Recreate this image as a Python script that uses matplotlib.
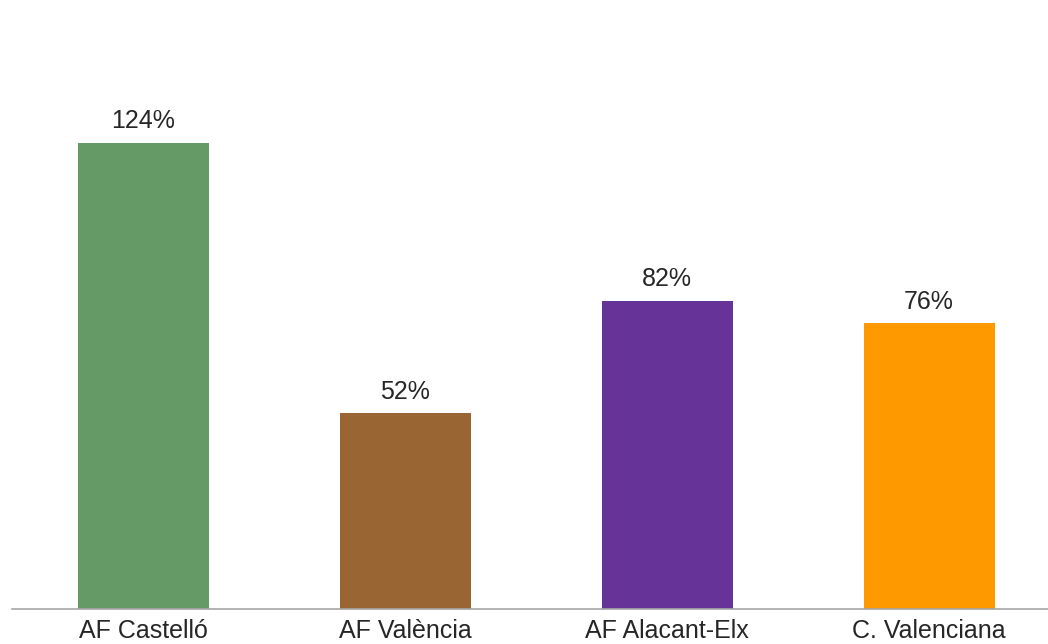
import matplotlib.pyplot as plt

# --- Data ---
categories = ['AF Castelló', 'AF València', 'AF Alacant-Elx', 'C. Valenciana']
values = [124, 52, 82, 76]
colors = ['#659966', '#996633', '#663399', '#FF9900']

plt.rcParams['font.family'] = ['Liberation Sans', 'DejaVu Sans']

fig = plt.figure(figsize=(10.48, 6.44), dpi=100)
# axes placed in pixels: baseline at y=609, left edge at x=12
ax = fig.add_axes([12 / 1048, (644 - 609) / 644, 1036 / 1048, 609 / 644])

x = range(len(categories))
bars = ax.bar(x, values, width=0.5, color=colors)

for b, v in zip(bars, values):
    ax.annotate(f'{v}%', (b.get_x() + b.get_width() / 2, v),
                xytext=(0, 7), textcoords='offset points',
                ha='center', va='bottom', fontsize=18, color='#262626')

ax.set_xlim(-0.5, -0.5 + 1036 / 262)
ax.set_ylim(0, 609 / 3.76)
ax.set_xticks(list(x))
ax.set_xticklabels(categories, fontsize=18, color='#262626')
ax.tick_params(axis='x', length=0, pad=7)
ax.set_yticks([])

for s in ['top', 'right', 'left']:
    ax.spines[s].set_visible(False)
ax.spines['bottom'].set_color('#a6a6a6')
ax.spines['bottom'].set_linewidth(1.2)

fig.savefig('out.png', dpi=100)
